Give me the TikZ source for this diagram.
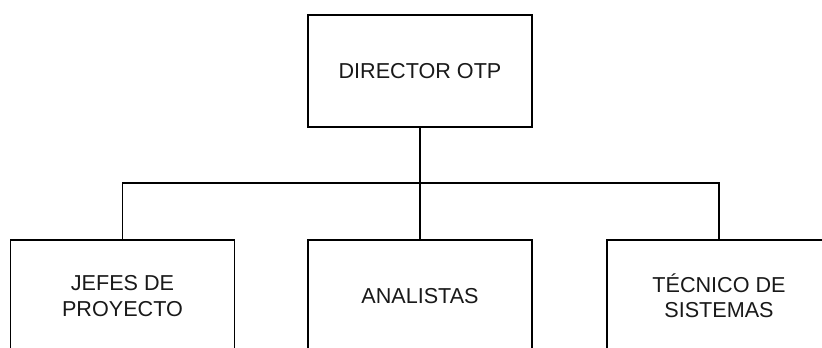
\documentclass[tikz,border=0pt]{standalone}
\usepackage{fontspec}
\setmainfont{Liberation Sans}
\begin{document}
\begin{tikzpicture}[x=0.75pt,y=-0.75pt,
  orgbox/.style={draw=black, line width=1pt, fill=white, minimum width=168pt, minimum height=84pt,
    inner sep=0pt, align=center, font=\fontsize{16.2pt}{19pt}\selectfont, text=black!90},
  link/.style={draw=black, line width=1pt}]
\useasboundingbox (0,0) rectangle (822,347);
\clip (0,0) rectangle (822,347);
\node[orgbox] (top) at (420,71) {DIRECTOR OTP};
\node[orgbox] (jefes) at (122.5,296) {JEFES DE\\PROYECTO};
\node[orgbox] (analistas) at (420,296) {ANALISTAS};
\node[orgbox] (tecnico) at (719,296) {TÉCNICO DE\\SISTEMAS};
\coordinate (bus) at (420,183);
\draw[link] (top.south) -- (analistas.north);
\draw[link] (bus) -| (jefes.north);
\draw[link] (bus) -| (tecnico.north);
\end{tikzpicture}
\end{document}
